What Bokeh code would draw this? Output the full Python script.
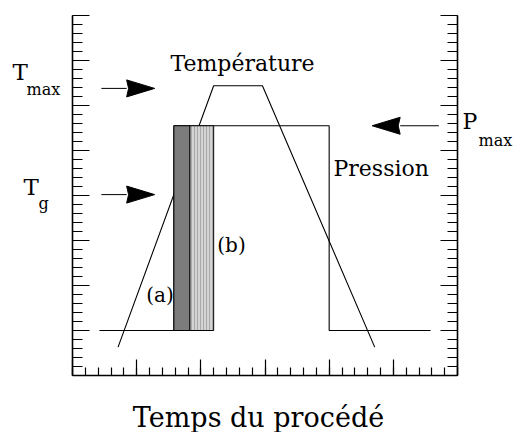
from bokeh.plotting import figure
from bokeh.models import Range1d, LinearAxis, SingleIntervalTicker, Label
from bokeh.embed import file_html
from bokeh.resources import INLINE

# ---------------- data (axis units: x major = 1, y major = 1) ----------------
pressure_x = [0.42, 1.58, 1.58, 4.0, 4.0, 5.58]
pressure_y = [1.0, 1.0, 5.55, 5.55, 1.0, 1.0]

temperature_x = [0.71, 2.2, 2.96, 4.71]
temperature_y = [0.63, 6.44, 6.44, 0.63]

bar_left = [1.58, 1.83]
bar_right = [1.83, 2.2]
bar_bottom = [1.0, 1.0]
bar_top = [5.55, 5.55]

arrow_start_x = [0.45, 0.45, 5.71]
arrow_tip_x = [1.28, 1.28, 4.67]
arrow_y = [6.38, 4.02, 5.55]

X_MAX = 6
Y_MAX = 8

# ---------------- layout ----------------
FONT = "DejaVu Serif"
W, H = 513, 432
# pixel geometry of the ticked box inside the canvas
AX_L, AX_R, AX_T, AX_B = 72, 457, 15, 375
px_x = X_MAX / (AX_R - AX_L)
px_y = Y_MAX / (AX_B - AX_T)
BASE_SHIFT = 0.41  # baseline correction for alphabetic labels (in em)


def sx(px):
    return (px - AX_L) * px_x


def sy(py):
    return (AX_B - py) * px_y


p = figure(width=W, height=H, output_backend="svg", toolbar_location=None,
           x_range=Range1d(sx(0), sx(W)), y_range=Range1d(sy(H), sy(0)),
           x_axis_type=None, y_axis_type=None, min_border=0,
           min_border_left=0, min_border_right=0,
           min_border_top=0, min_border_bottom=0)
p.outline_line_color = None
p.xgrid.visible = False
p.ygrid.visible = False
p.background_fill_color = "white"
p.border_fill_color = "white"


def make_axis(loc, bounds, tick_in, minor_in):
    ax = LinearAxis(ticker=SingleIntervalTicker(interval=1, num_minor_ticks=5),
                    fixed_location=loc, bounds=bounds)
    ax.major_tick_in = tick_in
    ax.major_tick_out = 0
    ax.minor_tick_in = minor_in
    ax.minor_tick_out = 0
    ax.axis_line_width = 1.6
    ax.axis_line_color = "black"
    ax.major_tick_line_color = "black"
    ax.minor_tick_line_color = "black"
    ax.major_tick_line_width = 1.2
    ax.minor_tick_line_width = 1.2
    ax.major_label_text_color = None
    return ax


p.add_layout(make_axis(0, (0, Y_MAX), 17, 10), "left")
p.add_layout(make_axis(X_MAX, (0, Y_MAX), 17, 10), "right")
p.add_layout(make_axis(0, (0, X_MAX), 16, 8), "below")

# curves
p.line(pressure_x, pressure_y, line_color="black", line_width=1.1)
p.line(temperature_x, temperature_y, line_color="black", line_width=1.1)

# bars
p.quad(left=bar_left[:1], right=bar_right[:1], bottom=bar_bottom[:1], top=bar_top[:1],
       fill_color="#7c7c7c", line_color="black", line_width=1)
p.quad(left=bar_left[1:], right=bar_right[1:], bottom=bar_bottom[1:], top=bar_top[1:],
       fill_color="#d4d4d4", line_color="black", line_width=1,
       hatch_pattern="|", hatch_color="#a8a8a8", hatch_scale=3, hatch_weight=1)

# arrows
HEAD_LEN = 28 * px_x
HEAD_HALF = 8.5 * px_y
shaft_x0, shaft_x1, shaft_y0, shaft_y1 = [], [], [], []
heads_x, heads_y = [], []
for x0, xt, y in zip(arrow_start_x, arrow_tip_x, arrow_y):
    d = 1 if xt > x0 else -1
    xb = xt - d * HEAD_LEN
    shaft_x0.append(x0); shaft_x1.append(xb); shaft_y0.append(y); shaft_y1.append(y)
    notch = xt - d * HEAD_LEN * 0.93
    heads_x.append([xt, xb, notch, xb])
    heads_y.append([y, y + HEAD_HALF, y, y - HEAD_HALF])
p.segment(shaft_x0, shaft_y0, shaft_x1, shaft_y1, line_color="black", line_width=1)
p.patches(heads_x, heads_y, fill_color="black", line_color="black", line_width=1)


# labels
def lab(x_px, y_px, text, size, align="left", baseline="alphabetic"):
    if baseline == "alphabetic":
        y_px -= BASE_SHIFT * size
    p.add_layout(Label(x=sx(x_px), y=sy(y_px), text=text, text_font=FONT,
                       text_font_size=f"{size}px", text_color="black",
                       text_align=align, text_baseline=baseline))


lab(170, 72, "Température", 22)
lab(333, 177, "Pression", 22)
lab(159.5, 294, "(a)", 20, "center", "middle")
lab(231, 244.5, "(b)", 20, "center", "middle")
lab(12, 81, "T", 23)
lab(26, 96, "max", 16)
lab(23, 196, "T", 23)
lab(38, 210, "g", 16)
lab(462, 130, "P", 22)
lab(478, 147, "max", 16)
lab(258, 428, "Temps du procédé", 27, "center")

open("out.html", "w").write(file_html(p, INLINE))
